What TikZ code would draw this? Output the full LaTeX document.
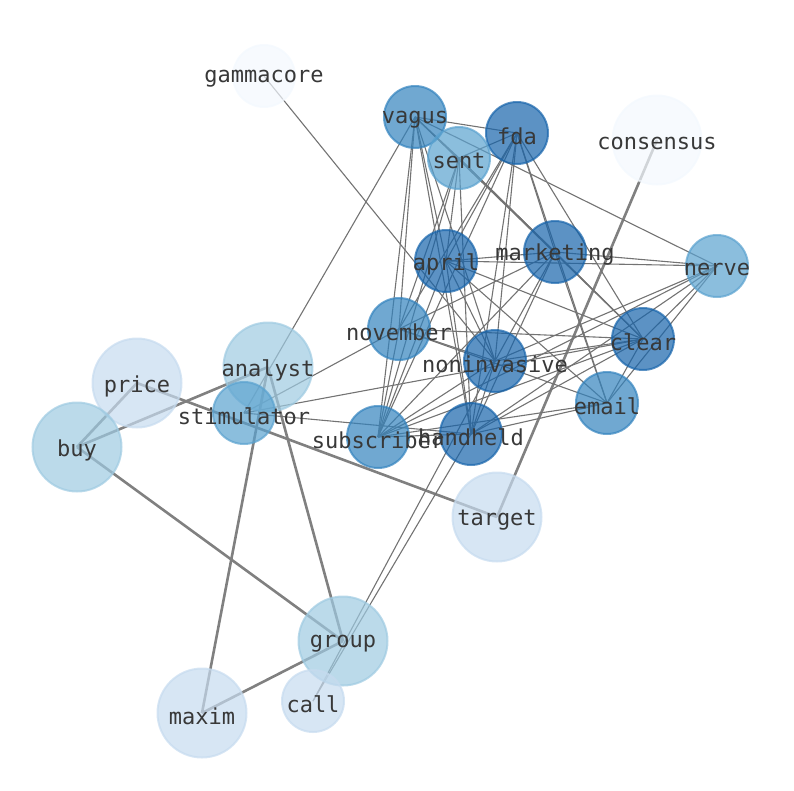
\documentclass[tikz,border=0pt]{standalone}
\usepackage{fontspec}
\setmonofont{DejaVu Sans Mono}
\usetikzlibrary{positioning}

\definecolor{tone0}{HTML}{F3F8FE}
\definecolor{tone1}{HTML}{C6DBEF}
\definecolor{tone2}{HTML}{9ECAE1}
\definecolor{tone3}{HTML}{5AA2CF}
\definecolor{tone4}{HTML}{3383BE}
\definecolor{tone5}{HTML}{1764AB}

\pgfdeclarelayer{edges}
\pgfsetlayers{edges,main}

\begin{document}
\begin{tikzpicture}[x=1pt, y=-1pt,
                    word/.style={circle, draw=#1, fill=#1, fill opacity=0.7, draw opacity=0.7,
                                 line width=2pt, inner sep=0pt, minimum size=62pt},
                    big/.style={minimum size=89pt},
                    tag/.style={font=\ttfamily\fontsize{22}{24}\selectfont, text=black!78,
                                inner sep=0pt, yshift=-3pt},
                    link/.style={draw=black!55, line width=1.1pt},
                    heavy/.style={draw=black!50, line width=2.6pt}]

\useasboundingbox (0,0) rectangle (794,790);

% words
\node[word=tone0] (gammacore) at (264,76) {};
\node[word=tone0, big] (consensus) at (657,140) {};
\node[word=tone4] (vagus) at (415,117) {};
\node[word=tone5] (fda) at (517,133) {};
\node[word=tone3] (sent) at (459,158) {};
\node[word=tone5] (marketing) at (555,252) {};
\node[word=tone5] (april) at (446,261) {};
\node[word=tone3] (nerve) at (717,266) {};
\node[word=tone4] (november) at (399,329) {};
\node[word=tone5] (clear) at (643,339) {};
\node[word=tone5] (noninvasive) at (495,361) {};
\node[word=tone2, big] (analyst) at (268,367) {};
\node[word=tone1, big] (price) at (137,383) {};
\node[word=tone3] (stimulator) at (244,413) {};
\node[word=tone4] (email) at (607,403) {};
\node[word=tone2, big] (buy) at (77,447) {};
\node[word=tone4] (subscriber) at (378,437) {};
\node[word=tone5] (handheld) at (471,434) {};
\node[word=tone1, big] (target) at (497,517) {};
\node[word=tone2, big] (group) at (343,641) {};
\node[word=tone1] (call) at (313,701) {};
\node[word=tone1, big] (maxim) at (202,713) {};

% links
\begin{pgfonlayer}{edges}
\foreach \a/\b in {consensus/target, price/target, price/buy, buy/analyst, buy/group,
                   analyst/group, analyst/maxim, group/maxim}
  \draw[heavy] (\a.center) -- (\b.center);
\foreach \a/\b in {gammacore/noninvasive, call/handheld, call/noninvasive,
                   vagus/stimulator, stimulator/november, stimulator/clear, stimulator/handheld,
                   vagus/fda, vagus/sent, vagus/nerve, vagus/marketing, vagus/april, vagus/november,
                   vagus/subscriber, vagus/handheld, vagus/noninvasive, vagus/clear,
                   fda/sent, fda/april, fda/november, fda/subscriber, fda/noninvasive, fda/handheld,
                   fda/marketing, fda/clear, fda/email,
                   sent/april, sent/subscriber, sent/marketing, sent/clear, sent/handheld, sent/november,
                   marketing/april, marketing/nerve, marketing/november, marketing/clear,
                   marketing/noninvasive, marketing/email, marketing/subscriber, marketing/handheld,
                   april/nerve, april/clear, april/noninvasive, april/email, april/subscriber, april/handheld,
                   nerve/clear, nerve/noninvasive, nerve/handheld, nerve/email, nerve/subscriber,
                   november/clear, november/noninvasive, november/email, november/subscriber,
                   clear/noninvasive, clear/email, clear/subscriber, clear/handheld,
                   noninvasive/subscriber, noninvasive/handheld,
                   email/subscriber, email/handheld, handheld/subscriber}
  \draw[link] (\a.center) -- (\b.center);
\end{pgfonlayer}

% labels
\foreach \w in {gammacore, consensus, vagus, fda, sent, marketing, april, nerve, november,
                clear, noninvasive, analyst, price, stimulator, email, buy, subscriber,
                handheld, target, group, call, maxim}
  \node[tag] (\w-txt) at (\w) {\w};

\end{tikzpicture}
\end{document}
